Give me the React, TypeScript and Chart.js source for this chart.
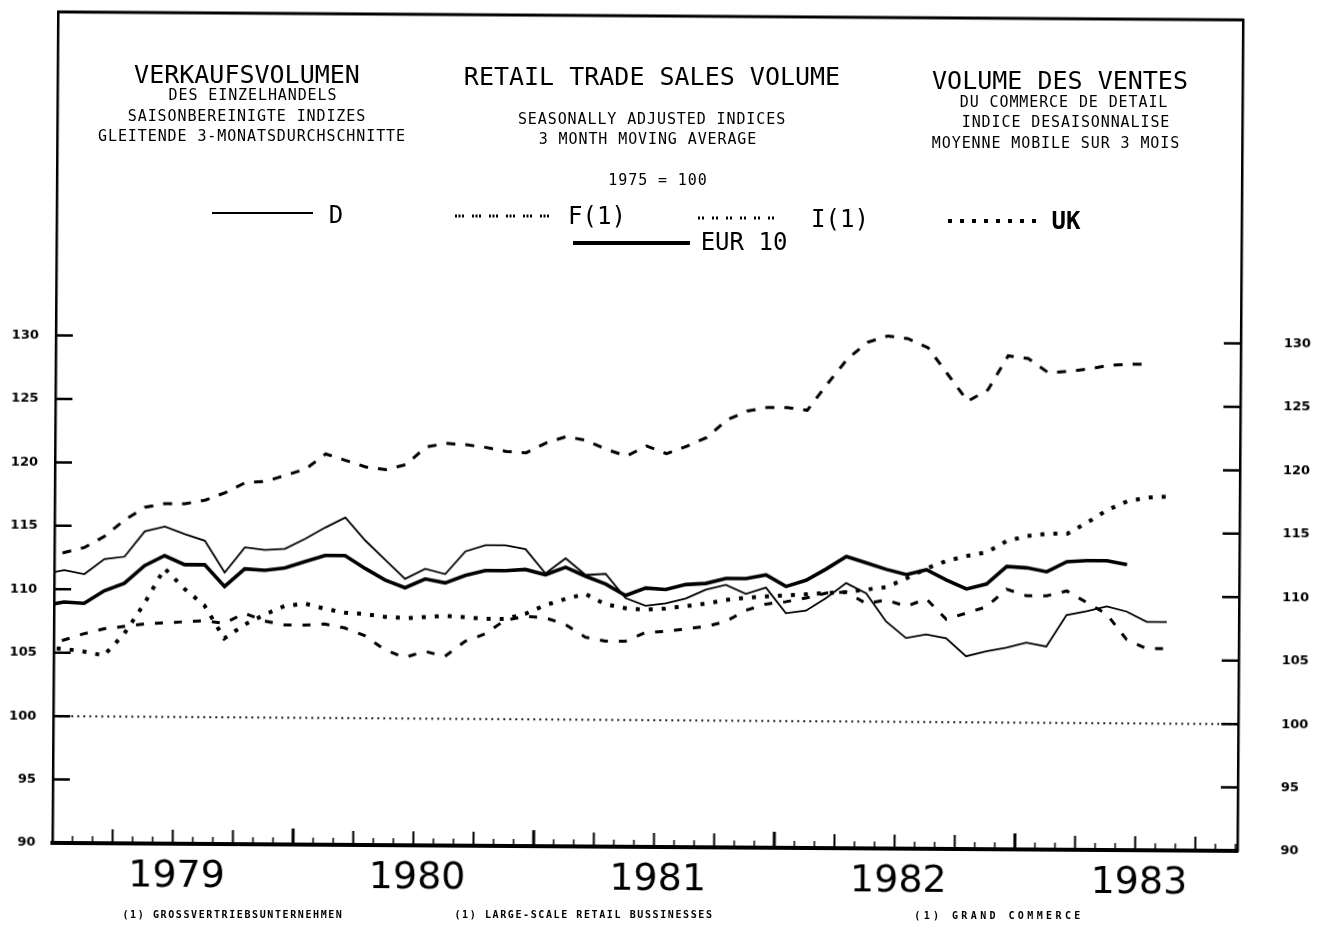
import React, { useEffect, useRef } from "react";
import { Chart, registerables } from "chart.js";

Chart.register(...registerables);

// ---------- data ----------
const months = [
  "1978-12",
  "1979-01", "1979-02", "1979-03", "1979-04", "1979-05", "1979-06", "1979-07", "1979-08", "1979-09", "1979-10", "1979-11", "1979-12",
  "1980-01", "1980-02", "1980-03", "1980-04", "1980-05", "1980-06", "1980-07", "1980-08", "1980-09", "1980-10", "1980-11", "1980-12",
  "1981-01", "1981-02", "1981-03", "1981-04", "1981-05", "1981-06", "1981-07", "1981-08", "1981-09", "1981-10", "1981-11", "1981-12",
  "1982-01", "1982-02", "1982-03", "1982-04", "1982-05", "1982-06", "1982-07", "1982-08", "1982-09", "1982-10", "1982-11", "1982-12",
  "1983-01", "1983-02", "1983-03", "1983-04", "1983-05", "1983-06", "1983-07", "1983-08",
];

const seriesD = [
  111.2,
  111.5, 111.2, 112.4, 112.6, 114.6, 115.0, 114.4, 113.9, 111.4, 113.4, 113.2, 113.3,
  114.1, 115.0, 115.8, 114.0, 112.5, 111.0, 111.8, 111.4, 113.2, 113.7, 113.7, 113.4,
  111.5, 112.7, 111.4, 111.5, 109.6, 109.0, 109.2, 109.6, 110.3, 110.7, 110.0, 110.5,
  108.5, 108.7, 109.7, 110.9, 110.1, 107.9, 106.6, 106.9, 106.6, 105.2, 105.6, 105.9,
  106.3, 106.0, 108.5, 108.8, 109.2, 108.8, 108.0, 108.0,
];

const seriesF = [
  112.4,
  112.9, 113.3, 114.2, 115.5, 116.5, 116.8, 116.8, 117.1, 117.7, 118.5, 118.6, 119.1,
  119.6, 120.8, 120.3, 119.8, 119.6, 120.0, 121.4, 121.7, 121.6, 121.4, 121.1, 121.0,
  121.8, 122.3, 122.0, 121.3, 120.8, 121.6, 121.0, 121.6, 122.3, 123.7, 124.4, 124.7,
  124.7, 124.5, 126.6, 128.6, 129.9, 130.4, 130.2, 129.5, 127.4, 125.3, 126.2, 128.9,
  128.7, 127.6, 127.7, 127.9, 128.2, 128.3, 128.3, null,
];

const seriesI = [
  105.5,
  106.0, 106.5, 106.9, 107.1, 107.3, 107.4, 107.5, 107.6, 107.4, 108.2, 107.6, 107.3,
  107.3, 107.4, 107.1, 106.5, 105.4, 104.8, 105.3, 104.9, 106.1, 106.7, 107.8, 108.1,
  108.0, 107.5, 106.5, 106.2, 106.2, 106.9, 107.0, 107.2, 107.4, 107.8, 108.7, 109.2,
  109.4, 109.7, 110.1, 110.2, 109.3, 109.6, 109.1, 109.7, 108.1, 108.6, 109.1, 110.5,
  110.0, 110.0, 110.4, 109.5, 108.6, 106.6, 105.9, 105.9,
];

const seriesUK = [
  105.4,
  105.3, 105.1, 104.8, 106.5, 108.9, 111.7, 110.1, 108.8, 106.2, 107.3, 108.1, 108.8,
  109.0, 108.6, 108.3, 108.2, 108.0, 107.9, 108.0, 108.1, 108.0, 107.9, 107.9, 108.3,
  109.0, 109.5, 109.9, 109.1, 108.8, 108.7, 108.8, 109.0, 109.2, 109.5, 109.7, 109.8,
  109.9, 110.0, 110.1, 110.2, 110.4, 110.6, 111.3, 112.1, 112.7, 113.1, 113.4, 114.3,
  114.7, 114.9, 114.9, 115.8, 116.8, 117.5, 117.8, 117.9,
];

const seriesEUR = [
  108.7,
  109.0, 108.9, 109.9, 110.5, 111.9, 112.7, 112.0, 112.0, 110.3, 111.7, 111.6, 111.8,
  112.3, 112.8, 112.8, 111.8, 110.9, 110.3, 111.0, 110.7, 111.3, 111.7, 111.7, 111.8,
  111.4, 112.0, 111.3, 110.7, 109.8, 110.4, 110.3, 110.7, 110.8, 111.2, 111.2, 111.5,
  110.6, 111.1, 112.0, 113.0, 112.5, 112.0, 111.6, 112.0, 111.2, 110.5, 110.9, 112.3,
  112.2, 111.9, 112.7, 112.8, 112.8, 112.5, null, null,
];

const baseIndex = 100;
const yTicks = [90, 95, 100, 105, 110, 115, 120, 125, 130];
const yearLabels = ["1979", "1980", "1981", "1982", "1983"];
const firstYear = 1979;

// ---------- helpers ----------
const monthToX = (m: string) => {
  const [y, mo] = m.split("-").map(Number);
  return (y - firstYear) * 12 + (mo - 1) + 0.5;
};
const toPoints = (vals: (number | null)[]) =>
  months.map((m, k) => ({ x: monthToX(m), y: vals[k] }));

// time axis: months since Jan 1979; the plotter frame closes shortly before Jan 1984
const xMin = 0;
const xMax = 59.1;
const yMin = 90;
const yMax = 155.5;

const MONO = "'DejaVu Sans Mono', monospace";

const framePlugin = {
  id: "frame",
  afterDraw(chart: any) {
    const { ctx, chartArea } = chart;
    const xs = chart.scales.x;
    const ys = chart.scales.y;
    const { left, right, top, bottom } = chartArea;
    ctx.save();
    ctx.strokeStyle = "#000";
    ctx.lineCap = "butt";
    // top border
    ctx.lineWidth = 3;
    ctx.beginPath();
    ctx.moveTo(left - 1, top);
    ctx.lineTo(right + 1, top);
    ctx.stroke();
    // y inward ticks
    ctx.lineWidth = 2.5;
    yTicks.forEach((v) => {
      if (v === yMin) return;
      const py = ys.getPixelForValue(v);
      ctx.beginPath();
      ctx.moveTo(left, py);
      ctx.lineTo(left + 17, py);
      ctx.moveTo(right - 17, py);
      ctx.lineTo(right, py);
      ctx.stroke();
    });
    // x inward ticks (months / quarters / years)
    for (let m = Math.ceil(xMin) + 1; m < xMax; m++) {
      const px = xs.getPixelForValue(m);
      const isYear = m % 12 === 0;
      const isQuarter = m % 3 === 0;
      const len = isYear ? 16 : isQuarter ? 14 : 7;
      ctx.lineWidth = isYear ? 3 : isQuarter ? 2 : 1.5;
      ctx.beginPath();
      ctx.moveTo(px, bottom);
      ctx.lineTo(px, bottom - len);
      ctx.stroke();
    }
    ctx.restore();
  },
};

const yAxisBase = (position: "left" | "right", width: number, padding: number) => ({
  type: "linear" as const,
  position,
  min: yMin,
  max: yMax,
  afterFit: (s: any) => {
    s.width = width;
    s.paddingTop = 0;
    s.paddingBottom = 0;
  },
  afterBuildTicks: (s: any) => {
    s.ticks = yTicks.map((v) => ({ value: v }));
  },
  ticks: {
    padding,
    color: "#000",
    font: { family: "'DejaVu Sans', sans-serif", size: 13, weight: "bold" as const },
    callback: (v: any) => String(v),
  },
  grid: { display: false, drawTicks: false },
  border: { display: true, width: 2.5, color: "#000" },
});

function ChartCanvas() {
  const ref = useRef<HTMLCanvasElement | null>(null);
  useEffect(() => {
    if (!ref.current) return;
    const chart = new Chart(ref.current, {
      type: "line",
      data: {
        datasets: [
          {
            label: "100",
            data: [
              { x: xMin, y: baseIndex },
              { x: xMax, y: baseIndex },
            ],
            borderColor: "#222",
            borderWidth: 2,
            borderDash: [2, 4],
            pointRadius: 0,
          },
          {
            label: "F(1)",
            data: toPoints(seriesF),
            borderColor: "#000",
            borderWidth: 3,
            borderDash: [9, 10],
            pointRadius: 0,
          },
          {
            label: "I(1)",
            data: toPoints(seriesI),
            borderColor: "#000",
            borderWidth: 3,
            borderDash: [8, 11],
            pointRadius: 0,
          },
          {
            label: "UK",
            data: toPoints(seriesUK),
            borderColor: "#000",
            borderWidth: 4,
            borderDash: [4, 9],
            pointRadius: 0,
          },
          {
            label: "D",
            data: toPoints(seriesD),
            borderColor: "#000",
            borderWidth: 1.8,
            pointRadius: 0,
          },
          {
            label: "EUR 10",
            data: toPoints(seriesEUR),
            borderColor: "#000",
            borderWidth: 3.6,
            pointRadius: 0,
          },
        ],
      },
      options: {
        responsive: false,
        animation: false,
        events: [],
        layout: { padding: { top: 16, left: 0, right: 0, bottom: 0 } },
        plugins: {
          legend: { display: false },
          tooltip: { enabled: false },
          title: { display: false },
        },
        elements: { line: { tension: 0 } },
        scales: {
          x: {
            type: "linear",
            position: "bottom",
            min: xMin,
            max: xMax,
            afterFit: (s: any) => {
              s.height = 82;
              s.paddingLeft = 0;
              s.paddingRight = 0;
            },
            afterBuildTicks: (s: any) => {
              s.ticks = yearLabels.map((_, j) => ({ value: j * 12 + 6 }));
            },
            ticks: {
              autoSkip: false,
              maxRotation: 0,
              padding: 10,
              labelOffset: 4,
              color: "#000",
              font: { family: "'DejaVu Sans', sans-serif", size: 38 },
              callback: (v: any) => yearLabels[Math.round((Number(v) - 6) / 12)],
            },
            grid: { display: false, drawTicks: false },
            border: { display: true, width: 4, color: "#000" },
          },
          y: yAxisBase("left", 55, 17),
          y2: yAxisBase("right", 82, 43),
        },
      },
      plugins: [framePlugin],
    });
    return () => chart.destroy();
  }, []);
  return (
    <canvas
      ref={ref}
      width={1322}
      height={929}
      style={{
        position: "absolute",
        left: 0,
        top: 0,
        width: 1322,
        height: 929,
        transform: "rotate(0.387deg)",
        transformOrigin: "661px 464px",
      }}
    />
  );
}

type TxtProps = { x: number; y: number; size: number; ls?: number; bold?: boolean; children: string };
function Txt({ x, y, size, ls = 0, bold = false, children }: TxtProps) {
  return (
    <div
      style={{
        position: "absolute",
        left: x,
        top: y,
        transform: "translate(-50%, -50%)",
        fontFamily: MONO,
        fontSize: size,
        letterSpacing: ls,
        fontWeight: bold ? "bold" : "normal",
        lineHeight: 1,
        whiteSpace: "pre",
        color: "#000",
      }}
    >
      {children}
    </div>
  );
}

type SampleProps = { x1: number; x2: number; y: number; width: number; dash?: string };
function Sample({ x1, x2, y, width, dash }: SampleProps) {
  return (
    <svg
      style={{ position: "absolute", left: x1, top: y - 6, overflow: "visible" }}
      width={x2 - x1}
      height={12}
    >
      <line
        x1={0}
        y1={6}
        x2={x2 - x1}
        y2={6}
        stroke="#000"
        strokeWidth={width}
        strokeDasharray={dash}
      />
    </svg>
  );
}

export default function App() {
  return (
    <div
      style={{
        position: "fixed",
        left: 0,
        top: 0,
        width: 1322,
        height: 929,
        background: "#fff",
        overflow: "hidden",
      }}
    >
      <ChartCanvas />

      {/* German column */}
      <Txt x={247} y={74} size={25}>VERKAUFSVOLUMEN</Txt>
      <Txt x={253} y={95} size={15} ls={0.9}>DES EINZELHANDELS</Txt>
      <Txt x={247} y={116} size={15} ls={0.9}>SAISONBEREINIGTE INDIZES</Txt>
      <Txt x={252} y={136} size={15} ls={0.9}>GLEITENDE 3-MONATSDURCHSCHNITTE</Txt>

      {/* English column */}
      <Txt x={652} y={76} size={25}>RETAIL TRADE SALES VOLUME</Txt>
      <Txt x={652} y={119} size={15} ls={0.9}>SEASONALLY ADJUSTED INDICES</Txt>
      <Txt x={648} y={139} size={15} ls={0.9}>3 MONTH MOVING AVERAGE</Txt>
      <Txt x={658} y={180} size={15} ls={0.9}>1975 = 100</Txt>

      {/* French column */}
      <Txt x={1060} y={80} size={25}>VOLUME DES VENTES</Txt>
      <Txt x={1064} y={102} size={15} ls={0.9}>DU COMMERCE DE DETAIL</Txt>
      <Txt x={1066} y={122} size={15} ls={0.9}>INDICE DESAISONNALISE</Txt>
      <Txt x={1056} y={143} size={15} ls={0.9}>MOYENNE MOBILE SUR 3 MOIS</Txt>

      {/* legend */}
      <Sample x1={212} x2={313} y={213} width={2} />
      <Txt x={336} y={215} size={24}>D</Txt>
      <Sample x1={455} x2={550} y={216} width={3} dash="2 1.5 2 1.5 2 8" />
      <Txt x={597} y={216} size={24}>F(1)</Txt>
      <Sample x1={698} x2={776} y={218} width={3} dash="2 2 2 8" />
      <Txt x={840} y={219} size={24}>I(1)</Txt>
      <Sample x1={948} x2={1040} y={221} width={4} dash="4 8" />
      <Txt x={1066} y={221} size={24} bold>UK</Txt>
      <Sample x1={573} x2={690} y={243} width={4} />
      <Txt x={744} y={242} size={24}>EUR 10</Txt>

      {/* footnotes */}
      <Txt x={233} y={915} size={10} ls={1.6} bold>(1) GROSSVERTRIEBSUNTERNEHMEN</Txt>
      <Txt x={584} y={915} size={10} ls={1.6} bold>(1) LARGE-SCALE RETAIL BUSSINESSES</Txt>
      <Txt x={999} y={916} size={10} ls={3.4} bold>(1) GRAND COMMERCE</Txt>
    </div>
  );
}
